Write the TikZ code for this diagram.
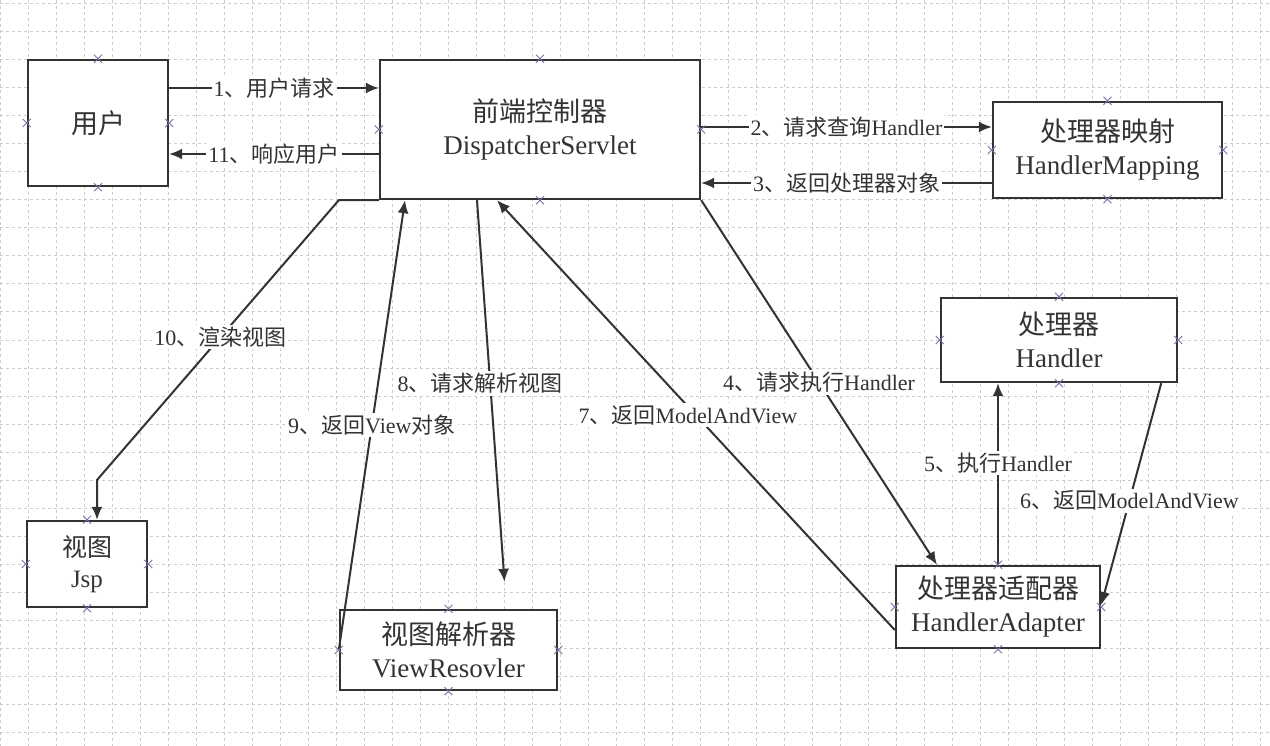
\documentclass[tikz,border=0pt]{standalone}
\usepackage{fontspec}
\setmainfont{Liberation Serif}
\newfontfamily\cjk{Noto Sans CJK SC}
\usepackage{tikz}
\usetikzlibrary{arrows.meta}
\usetikzlibrary{positioning}
\definecolor{gridgrey}{rgb}{0.8,0.8,0.8}
\definecolor{ink}{rgb}{0.2,0.2,0.2}
\definecolor{markblue}{rgb}{0.45,0.45,0.65}
\newcommand{\zh}[1]{{\cjk #1}}

\begin{document}
\begin{tikzpicture}[x=1pt, y=-1pt,
box/.style ={draw=ink, line width=2.4pt, fill=white, align=center, text=ink, inner sep=0pt, font=\fontsize{27}{33}\selectfont},
flow/.style ={draw=ink, line width=2pt, -{Latex[length=13pt,width=11pt]}},
lbl/.style ={fill=white, inner sep=2pt, text=ink, font=\fontsize{22}{24}\selectfont},
xmark/.style ={draw=markblue, line width=0.9pt},
gridline/.style ={draw=gridgrey, line width=1pt, dash pattern=on 3pt off 3pt}]
\useasboundingbox (0,0) rectangle (1270,746);
\fill[white] (0,0) rectangle (1270,746);
\foreach \gx in {0,28,...,1270} \draw[gridline] (\gx,0) -- (\gx,746);
\foreach \gy in {4,32,...,746} \draw[gridline] (0,\gy) -- (1270,\gy);

% boxes
\node[box, minimum width=140pt, minimum height=126pt] (user) at (98,123) {\zh{用户}};
\node[box, minimum width=320pt, minimum height=139pt] (ds) at (540,129.5) {\zh{前端控制器}\\DispatcherServlet};
\node[box, minimum width=229pt, minimum height=96pt] (hm) at (1107.5,150) {\zh{处理器映射}\\HandlerMapping};
\node[box, minimum width=236pt, minimum height=84pt] (handler) at (1059,340) {\zh{处理器}\\Handler};
\node[box, minimum width=204pt, minimum height=82pt] (ha) at (998,607) {\zh{处理器适配器}\\HandlerAdapter};
\node[box, minimum width=120pt, minimum height=86pt, font=\fontsize{25}{31}\selectfont] (jsp) at (87,564) {\zh{视图}\\Jsp};
\node[box, minimum width=217pt, minimum height=80pt] (vr) at (448.5,650) {\zh{视图解析器}\\ViewResovler};

% 1, 11
\coordinate (u1) at ([yshift=35pt]user.east);
\draw[flow] (u1) -- node[lbl]{1\zh{、用户请求}} (u1 -| ds.west);
\coordinate (u11) at ([yshift=-31pt]user.east);
\draw[flow] (u11 -| ds.west) -- node[lbl]{11\zh{、响应用户}} (u11);

% 2, 3
\coordinate (d2) at ([yshift=2.5pt]ds.east);
\draw[flow] (d2) -- node[lbl]{2\zh{、请求查询}Handler} (d2 -| hm.west);
\coordinate (d3) at ([yshift=-53.5pt]ds.east);
\draw[flow] (d3 -| hm.west) -- node[lbl]{3\zh{、返回处理器对象}} (d3);

% 4 to 7
\draw[flow] (ds.south east) -- node[lbl]{4\zh{、请求执行}Handler} ([xshift=-61pt]ha.north);
\draw[flow] (ha.north) -- node[lbl, pos=.56]{5\zh{、执行}Handler} (ha.north |- handler.south);
\draw[flow] ([xshift=-17pt]handler.south east) -- node[lbl, pos=.53]{6\zh{、返回}ModelAndView} ([yshift=2pt]ha.east);
\draw[flow] ([yshift=-23pt]ha.west) -- node[lbl, pos=.5, xshift=-8pt]{7\zh{、返回}ModelAndView} ([xshift=-43pt]ds.south);

% 8 to 10
\draw[flow] ([xshift=-63pt]ds.south) -- node[lbl, pos=.48, xshift=-10pt]{8\zh{、请求解析视图}} ([xshift=56pt,yshift=27pt]vr.north);
\draw[flow] (vr.west) -- node[lbl]{9\zh{、返回}View\zh{对象}} ([xshift=-135pt]ds.south);
\coordinate (bend10) at (97,480);
\draw[flow] (ds.south west) -- ++(-40,0) -- node[lbl, pos=.49]{10\zh{、渲染视图}} (bend10) -- (bend10 |- jsp.north);

% connection marks
\foreach \b in {user,ds,hm,handler,ha,jsp,vr}
  \foreach \a in {north,south,east,west}
    \draw[xmark] (\b.\a) +(-4pt,-4pt) -- +(4pt,4pt) +(-4pt,4pt) -- +(4pt,-4pt);
\end{tikzpicture}
\end{document}
